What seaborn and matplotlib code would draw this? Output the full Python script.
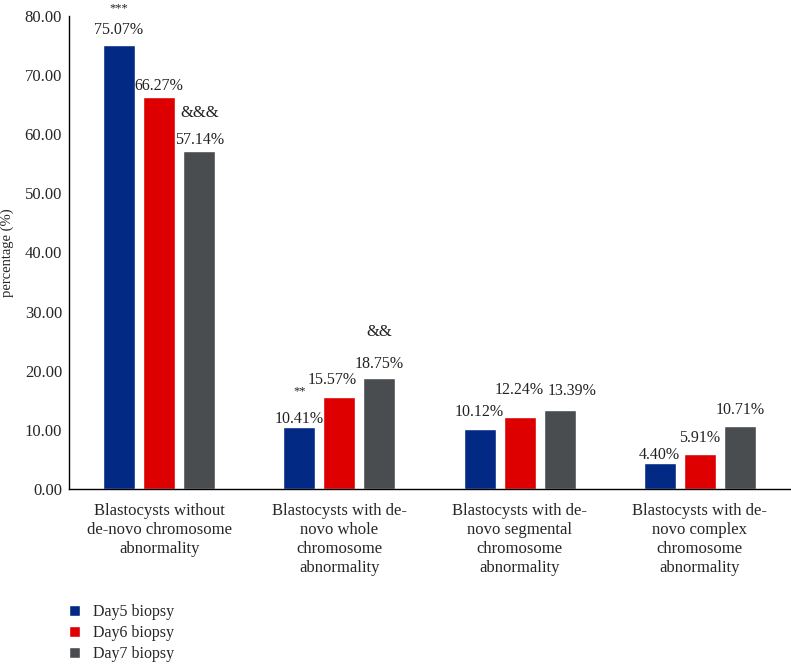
import numpy as np
import pandas as pd
import matplotlib
matplotlib.use("Agg")
import matplotlib.pyplot as plt
import seaborn as sns

categories = [
    "Blastocysts without\nde-novo chromosome\nabnormality",
    "Blastocysts with de-\nnovo whole\nchromosome\nabnormality",
    "Blastocysts with de-\nnovo segmental\nchromosome\nabnormality",
    "Blastocysts with de-\nnovo complex\nchromosome\nabnormality",
]
groups = ["Day5 biopsy", "Day6 biopsy", "Day7 biopsy"]
day5 = [75.07, 10.41, 10.12, 4.40]
day6 = [66.27, 15.57, 12.24, 5.91]
day7 = [57.14, 18.75, 13.39, 10.71]
# significance marks per (group, category)
marks = {
    "Day5 biopsy": ["***", "**", "", ""],
    "Day6 biopsy": ["", "", "", ""],
    "Day7 biopsy": ["&&&", "&&", "", ""],
}
yticks = [0, 10, 20, 30, 40, 50, 60, 70, 80]

colors = ["#022a84", "#de0000", "#4a4d50"]
SERIF = ["Liberation Serif", "DejaVu Serif"]

df = pd.DataFrame({
    "category": categories * 3,
    "group": [g for g in groups for _ in categories],
    "value": day5 + day6 + day7,
})

sns.set_style("white")
plt.rcParams["font.family"] = "serif"
plt.rcParams["font.serif"] = SERIF

fig = plt.figure(figsize=(7.91, 6.65), dpi=100)
ax = fig.add_axes([69 / 791, 1 - 489 / 665, 721 / 791, 473 / 665])

sns.barplot(data=df, x="category", y="value", hue="group", hue_order=groups,
            order=categories, palette=colors, width=0.667, gap=0.2,
            saturation=1, ax=ax, legend=True)

# label offsets in pixels (dx, dy of label centre above bar top)
label_off = [
    [(0, 15), (0, 8), (0, 17), (0, 8)],
    [(0, 11), (-7, 17), (0, 27), (0, 16)],
    [(0, 11), (0, 14), (12, 19), (0, 16)],
]
mark_off = {"***": 37, "**": 36, "&&&": 38, "&&": 46}

for h, cont in enumerate(ax.containers):
    for i, bar in enumerate(cont):
        x = bar.get_x() + bar.get_width() / 2
        top = bar.get_height()
        dx, dy = label_off[h][i]
        ax.annotate(f"{top:.2f}%", (x, top), xytext=(dx, dy),
                    textcoords="offset pixels", ha="center", va="center",
                    fontsize=11.5, color="#222222", family=SERIF)
        m = marks[groups[h]][i]
        if m:
            fs = 9 if "*" in m else 12
            ax.annotate(m, (x, top), xytext=(0, mark_off[m]),
                        textcoords="offset pixels", ha="center", va="center",
                        fontsize=fs, color="#222222", family=SERIF,
                        annotation_clip=False)

ax.set_xlim(-0.5, 3.5)
ax.set_ylim(0, 80)
ax.set_yticks(yticks)
ax.set_yticklabels([f"{v:.2f}" for v in yticks], fontsize=12, family=SERIF)
ax.tick_params(axis="y", length=0, pad=5)
ax.set_xticks(range(len(categories)))
ax.set_xticklabels(categories, fontsize=12, family=SERIF, linespacing=1.25)
ax.tick_params(axis="x", which="major", length=0, pad=10)
ax.set_xticks(np.arange(-0.5, 4.0, 1.0), minor=True)
ax.tick_params(axis="x", which="minor", length=5, width=1, direction="out", color="black")
ax.set_xlabel("")
ax.set_ylabel("percentage (%)", fontsize=10.5, labelpad=8, family=SERIF)

for s in ["top", "right"]:
    ax.spines[s].set_visible(False)
for s in ["left", "bottom"]:
    ax.spines[s].set_color("black")
    ax.spines[s].set_linewidth(1)

handles, labels = ax.get_legend_handles_labels()
ax.get_legend().remove()
fig.legend(handles, labels, loc="upper left", bbox_to_anchor=(63 / 791, 1 - 598 / 665),
           frameon=False, prop={"family": SERIF, "size": 11.5}, handlelength=0.65,
           handleheight=0.65, labelspacing=0.3, handletextpad=0.8, borderaxespad=0)

fig.savefig("out.png", dpi=100)
